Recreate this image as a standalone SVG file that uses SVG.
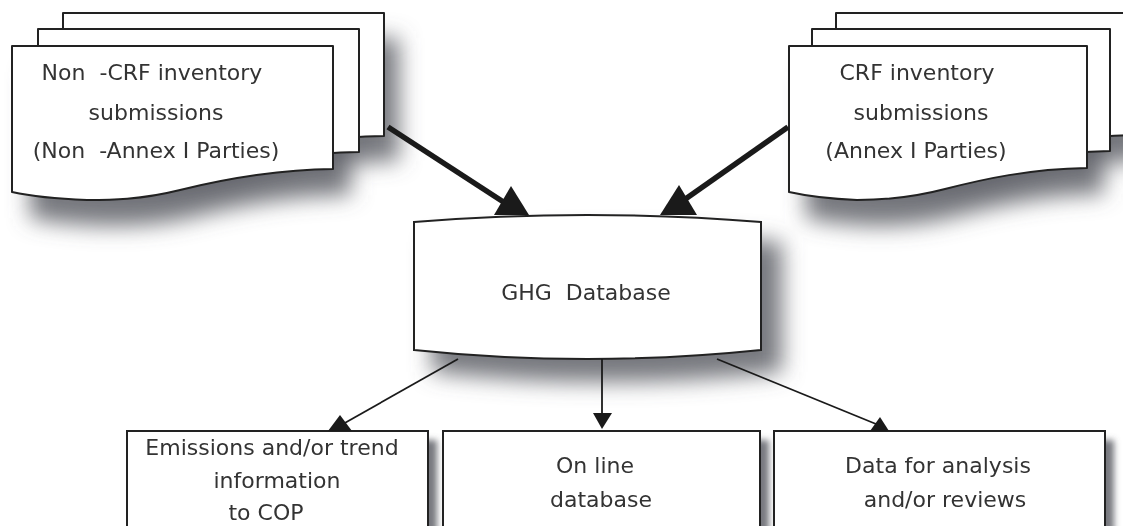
<svg xmlns="http://www.w3.org/2000/svg" width="1123" height="526" viewBox="0 0 1123 526">
  <defs>
    <filter id="soft" x="-20%" y="-30%" width="140%" height="180%">
      <feGaussianBlur stdDeviation="11"/>
    </filter>
    <filter id="softSmall" x="-20%" y="-20%" width="140%" height="140%">
      <feGaussianBlur stdDeviation="3"/>
    </filter>
    <!-- page outline with a wavy lower edge, used for the document stacks -->
    <path id="pageL" d="M0,0 H321 V123 C258,124 208,134 168,144 C128,154 98,154 75,154 C48,153 18,150 0,146 Z"/>
    <path id="pageR" d="M0,0 H298 V122 C240,123 195,133 156,143 C118,153 90,154 68,154 C44,153 18,150 0,146 Z"/>
  </defs>
  <style>
    .page { fill: #ffffff; stroke: #222222; stroke-width: 2; stroke-linejoin: round; }
    .box { fill: #ffffff; stroke: #222222; stroke-width: 2; }
    .shadow { fill: #5f6268; opacity: 0.85; }
    .label { font-family: "DejaVu Sans", "Liberation Sans", sans-serif; font-size: 22px; fill: #333333; text-anchor: middle; }
    .thick { stroke: #1a1a1a; stroke-width: 5.5; fill: none; }
    .thin { stroke: #1a1a1a; stroke-width: 1.8; fill: none; }
    .head { fill: #1a1a1a; }
  </style>

  <rect width="1123" height="526" fill="#ffffff"/>

  <!-- blurred drop shadows -->
  <g id="shadows" filter="url(#soft)">
    <use href="#pageL" x="78" y="38" class="shadow"/>
    <use href="#pageL" x="30" y="72" class="shadow"/>
    <use href="#pageR" x="858" y="38" class="shadow"/>
    <use href="#pageR" x="806" y="72" class="shadow"/>
    <path class="shadow" d="M432,242 Q602,228 782,242 L782,372 Q602,392 432,372 Z"/>
  </g>
  <g id="box-shadows" filter="url(#softSmall)">
    <rect class="shadow" x="135" y="440" width="302" height="100"/>
    <rect class="shadow" x="451" y="440" width="318" height="100"/>
    <rect class="shadow" x="782" y="440" width="332" height="100"/>
  </g>

  <!-- Non-CRF document stack -->
  <g id="node-non-crf">
    <use href="#pageL" x="63" y="13" class="page"/>
    <use href="#pageL" x="38" y="29" class="page"/>
    <use href="#pageL" x="12" y="46" class="page"/>
    <text class="label" xml:space="preserve" x="152" y="80">Non  -CRF inventory</text>
    <text class="label" x="156" y="120">submissions</text>
    <text class="label" xml:space="preserve" x="156" y="158">(Non  -Annex I Parties)</text>
  </g>

  <!-- CRF document stack -->
  <g id="node-crf">
    <use href="#pageR" x="836" y="13" class="page"/>
    <use href="#pageR" x="812" y="29" class="page"/>
    <use href="#pageR" x="789" y="46" class="page"/>
    <text class="label" x="917" y="80">CRF inventory</text>
    <text class="label" x="921" y="120">submissions</text>
    <text class="label" x="916" y="158">(Annex I Parties)</text>
  </g>

  <!-- central database -->
  <g id="node-ghg-database">
    <path class="box" d="M414,222 Q587,208 761,222 L761,350 Q587,368 414,350 Z"/>
    <text class="label" xml:space="preserve" x="586" y="300">GHG  Database</text>
  </g>

  <!-- output boxes -->
  <g id="node-cop">
    <rect class="box" x="127" y="431" width="301" height="110"/>
    <text class="label" x="272" y="455">Emissions and/or trend</text>
    <text class="label" x="277" y="488">information</text>
    <text class="label" x="266" y="520">to COP</text>
  </g>
  <g id="node-online">
    <rect class="box" x="443" y="431" width="317" height="110"/>
    <text class="label" x="595" y="473">On line</text>
    <text class="label" x="601" y="507">database</text>
  </g>
  <g id="node-analysis">
    <rect class="box" x="774" y="431" width="331" height="110"/>
    <text class="label" x="938" y="473">Data for analysis</text>
    <text class="label" x="945" y="507">and/or reviews</text>
  </g>

  <!-- connectors -->
  <g id="connectors">
    <line class="thick" x1="388" y1="127" x2="505" y2="203"/>
    <polygon class="head" points="511,186 529,215 494,215"/>
    <line class="thick" x1="788" y1="127" x2="684" y2="200"/>
    <polygon class="head" points="679,185 697,215 660,215"/>

    <line class="thin" x1="458" y1="359" x2="343" y2="424"/>
    <polygon class="head" points="340,415 352,431 328,431"/>
    <line class="thin" x1="602" y1="359" x2="602" y2="415"/>
    <polygon class="head" points="593,413 612,413 602,429"/>
    <line class="thin" x1="717" y1="359" x2="876" y2="424"/>
    <polygon class="head" points="880,417 889,431 870,431"/>
  </g>
</svg>
